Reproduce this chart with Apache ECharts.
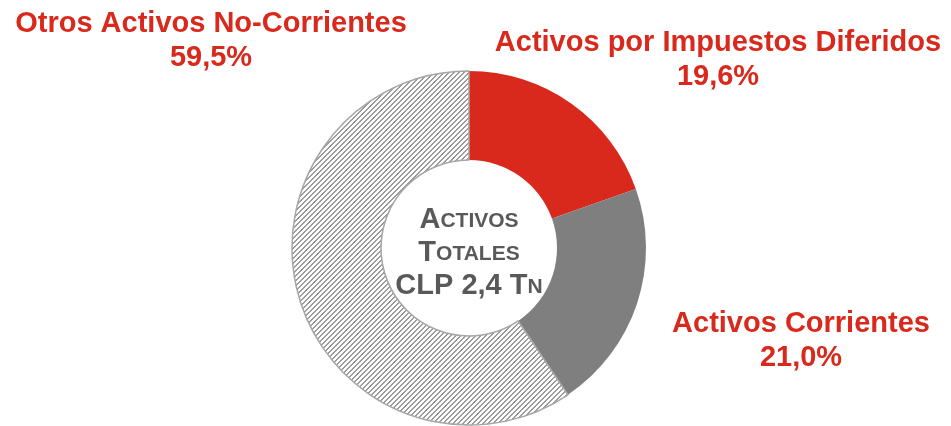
<!DOCTYPE html>
<html>
<head>
<meta charset="utf-8">
<script src="https://cdn.jsdelivr.net/npm/echarts@6/dist/echarts.min.js"></script>
<style>
html, body { margin: 0; padding: 0; background: #fff; }
#chart { width: 951px; height: 426px; }
</style>
</head>
<body>
<div id="chart"></div>
<script>
// datos
var categories = ['Activos por Impuestos Diferidos', 'Activos Corrientes', 'Otros Activos No-Corrientes'];
var values = [19.6, 21.0, 59.5];
var centerLines = [['A', 'CTIVOS'], ['T', 'OTALES'], ['CLP 2,4 T', 'N']];

var FONT = '"Liberation Sans", Arial, sans-serif';
var RED = '#d9291c';

// trama rayada para el segmento grande (pixeles nitidos)
function hatch() {
    var c = document.createElement('canvas');
    c.width = 5; c.height = 5;
    var g = c.getContext('2d');
    g.fillStyle = '#fff';
    g.fillRect(0, 0, 5, 5);
    g.fillStyle = '#9c9c9c';
    for (var x = 0; x < 5; x++) {
        for (var y = 0; y < 5; y++) {
            if ((x + y) % 5 < 2) g.fillRect(x, y, 1, 1);
        }
    }
    return c;
}

var sliceStyles = [
    { color: RED, borderWidth: 0 },
    { color: '#7f7f7f', borderWidth: 0 },
    { color: { image: hatch(), repeat: 'repeat' }, borderColor: '#a6a6a6', borderWidth: 1.5 }
];
// posicion de las etiquetas (centro x, centro y)
var labelPos = [[718, 60], [801, 341], [211, 41]];

var chart = echarts.init(document.getElementById('chart'));

var centerText = centerLines.map(function (l) {
    return '{b|' + l[0] + '}{s|' + l[1] + '}';
}).join('\n');

chart.setOption({
    animation: false,
    series: [{
        type: 'pie',
        center: [469, 248],
        radius: [88, 177],
        startAngle: 90,
        clockwise: true,
        silent: true,
        data: categories.map(function (c, i) {
            return { name: c, value: values[i], itemStyle: sliceStyles[i] };
        }),
        label: {
            show: true,
            color: RED,
            fontFamily: FONT,
            fontWeight: 'bold',
            fontSize: 29,
            lineHeight: 34,
            align: 'center',
            overflow: 'none',
            width: 600,
            formatter: function (p) {
                return p.name + '\n' + p.value.toFixed(1).replace('.', ',') + '%';
            }
        },
        labelLine: { show: false },
        labelLayout: function (p) {
            var pos = labelPos[p.dataIndex];
            return { x: pos[0], y: pos[1], align: 'center', verticalAlign: 'middle' };
        }
    }],
    graphic: [{
        type: 'text',
        x: 469,
        y: 253,
        style: {
            text: centerText,
            align: 'center',
            verticalAlign: 'middle',
            fill: '#595959',
            rich: {
                b: { fontFamily: FONT, fontWeight: 'bold', fontSize: 29, lineHeight: 33, fill: '#595959', verticalAlign: 'middle' },
                s: { fontFamily: FONT, fontWeight: 'bold', fontSize: 21, lineHeight: 33, fill: '#595959', verticalAlign: 'middle', padding: [2, 0, 0, 0] }
            }
        }
    }]
});
</script>
</body>
</html>
